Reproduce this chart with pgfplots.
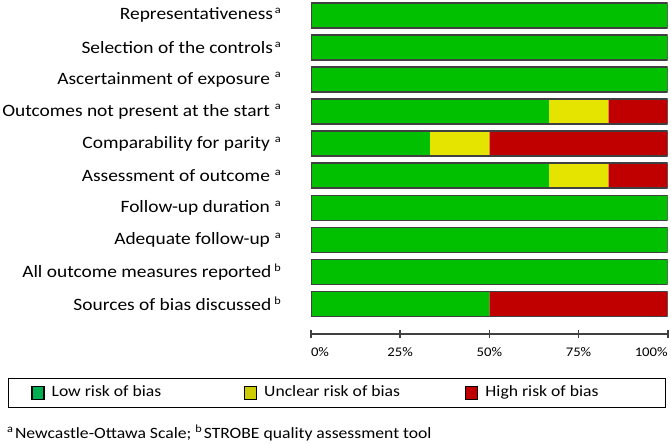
\documentclass[border=0pt]{standalone}
\usepackage{pgfplots}
\usepackage{pgfplotstable}
\pgfplotsset{compat=1.18}
\usepackage{fontspec}
\setmainfont{Carlito}[FakeStretch=1.12]
\definecolor{lowc}{RGB}{0,192,0}
\definecolor{uncc}{RGB}{228,228,0}
\definecolor{higc}{RGB}{192,0,0}
\definecolor{lowl}{RGB}{0,176,80}
\definecolor{uncl}{RGB}{204,204,0}
\definecolor{higl}{RGB}{192,0,0}
\definecolor{edge}{RGB}{64,64,64}
\newcommand{\sa}[1]{\raisebox{0.75ex}{\fontsize{11}{11}\selectfont #1}}

\pgfplotstableread{
y low unclear high
9 100 0 0
8 100 0 0
7 100 0 0
6 66.67 16.67 16.67
5 33.33 16.67 50
4 66.67 16.67 16.67
3 100 0 0
2 100 0 0
1 100 0 0
0 50 0 50
}\riskdata

\pgfplotsset{riskaxis/.style={
  scale only axis, width=356.7bp, height=334bp,
  at={(311bp,110bp)}, anchor=south west,
  xmin=0, xmax=100, ymin=-0.94, ymax=9.48,
  bar width=0.78,
}}

\begin{document}
\begin{tikzpicture}
\path[use as bounding box] (0,0) rectangle (671bp,444bp);
\begin{axis}[riskaxis, xbar stacked,
  axis x line=bottom, axis y line=left,
  x axis line style={-, edge, line width=1.6bp},
  y axis line style={draw=none},
  ytick={0,...,9},
  yticklabels={
    Sources of bias discussed\hspace{3bp}\sa{b},
    All outcome measures reported\hspace{3bp}\sa{b},
    Adequate follow-up\hspace{5bp}\sa{a},
    Follow-up duration\hspace{5bp}\sa{a},
    Assessment of outcome\hspace{5bp}\sa{a},
    Comparability for parity\hspace{5bp}\sa{a},
    Outcomes not present at the start\hspace{5bp}\sa{a},
    Ascertainment of exposure\hspace{5bp}\sa{a},
    Selection of the controls\hspace{2bp}\sa{a},
    Representativeness\hspace{2bp}\sa{a}},
  ytick style={draw=none},
  yticklabel style={font=\fontsize{17.4}{20}\selectfont, anchor=east, inner xsep=0pt, xshift=-26bp},
  xtick={0,25,50,75,100},
  xticklabels={\makebox[0pt][l]{0\%},25\%,50\%,75\%,\makebox[0pt][r]{100\%}},
  xtick style={edge, line width=1.6bp},
  tick align=center, major tick length=8bp,
  xticklabel style={font=\fontsize{13.2}{15}\selectfont, anchor=north, inner sep=0pt, yshift=-9bp},
  legend image code/.code={\fill[#1] (0bp,-6.5bp) rectangle (12bp,6.5bp);},
  legend columns=3,
  legend style={at={(-0.8496,-0.1308)}, anchor=north west, draw=black, line width=1.3bp,
    inner xsep=22.7bp, inner ysep=7bp,
    nodes={inner sep=0pt, text height=11bp, text depth=4bp, font=\fontsize{15.8}{18}\selectfont},
    /tikz/every even column/.append style={column sep=0pt},
    /tikz/every odd column/.append style={column sep=0pt}},
]
\addplot[fill=lowc, draw=none, forget plot] table[x=low, y=y] {\riskdata};
\addplot[fill=uncc, draw=none, forget plot] table[x=unclear, y=y] {\riskdata};
\addplot[fill=higc, draw=none, forget plot] table[x=high, y=y] {\riskdata};
\addlegendimage{fill=lowl}
\addlegendentry{\hspace{7bp}\makebox[192.3bp][l]{Low risk of bias}}
\addlegendimage{fill=uncl}
\addlegendentry{\hspace{7bp}\makebox[201bp][l]{Unclear risk of bias}}
\addlegendimage{fill=higl}
\addlegendentry{\hspace{7bp}\makebox[157.3bp][l]{High risk of bias}}
\end{axis}
\begin{axis}[riskaxis, hide axis]
\addplot[xbar, fill=none, draw=edge, line width=1.4bp] coordinates {
(100,0) (100,1) (100,2) (100,3) (100,4) (100,5) (100,6) (100,7) (100,8) (100,9)};
\end{axis}
\node[anchor=base west, inner sep=0pt, font=\fontsize{15.8}{18}\selectfont] at (7bp,6bp)
  {\sa{a}\hspace{2bp}Newcastle-Ottawa Scale; \sa{b}\hspace{2bp}STROBE quality assessment tool};
\end{tikzpicture}
\end{document}
